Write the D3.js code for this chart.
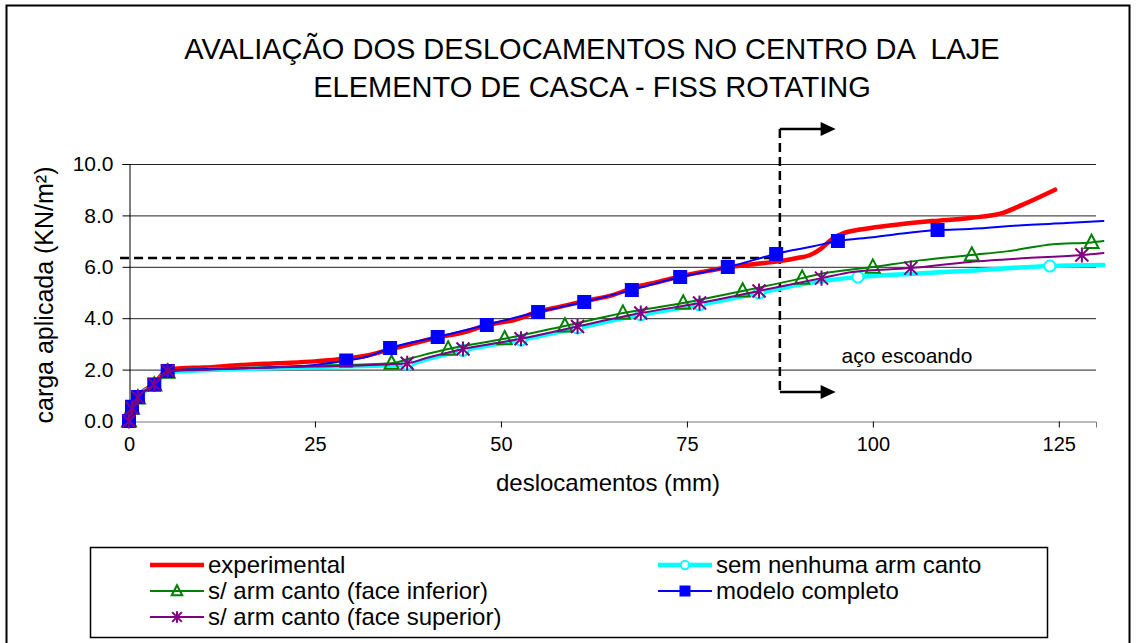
<!DOCTYPE html>
<html>
<head>
<meta charset="utf-8">
<script src="https://cdn.jsdelivr.net/npm/d3@7"></script>
<style>
  body { margin: 0; background: #fff; }
  svg { display: block; font-family: "Liberation Sans", Arial, sans-serif; }
  .title { white-space: pre; }
</style>
</head>
<body>
<script>
// chart text
const titleLines = ["AVALIAÇÃO DOS DESLOCAMENTOS NO CENTRO DA  LAJE", "ELEMENTO DE CASCA - FISS ROTATING"];
const xTitle = "deslocamentos (mm)";
const yTitle = "carga aplicada (KN/m²)";
const xTicks = [0, 25, 50, 75, 100, 125];
const yTicks = [0, 2, 4, 6, 8, 10];

// experimental
const expX = [0, 0.5, 1.3, 3.4, 5.2, 7, 10, 15, 20, 25, 29, 32, 35, 38, 41.5, 45, 48, 52, 55, 58, 61, 65, 68, 71, 74.5, 78, 81, 84, 87.5, 90, 91.5, 93, 94.6, 96, 98.3, 102, 108, 113, 117.5, 120, 124.5];
const expY = [0, 0.5, 0.95, 1.45, 2.0, 2.05, 2.08, 2.18, 2.25, 2.32, 2.42, 2.55, 2.78, 3.0, 3.25, 3.45, 3.72, 3.95, 4.25, 4.45, 4.65, 4.9, 5.2, 5.4, 5.65, 5.85, 6.0, 6.1, 6.22, 6.35, 6.45, 6.7, 7.1, 7.3, 7.45, 7.6, 7.78, 7.9, 8.1, 8.4, 9.0];

// sem nenhuma arm canto
const semX = [0, 0.4, 1.2, 3.4, 5.2, 8, 15, 25, 37.4, 40, 44.9, 52.7, 60.3, 68.8, 76.7, 84.7, 90, 98, 105, 113, 123.8, 131];
const semY = [0, 0.5, 0.9, 1.4, 1.9, 1.95, 2.02, 2.1, 2.2, 2.4, 2.75, 3.15, 3.62, 4.13, 4.52, 4.98, 5.3, 5.6, 5.72, 5.85, 6.03, 6.07];
const semMarks = [8, 10, 11, 12, 13, 14, 15, 17, 20];

// s/ arm canto (face inferior)
const infX = [0, 0.4, 1.2, 3.4, 5.2, 8, 15, 25, 35.3, 38, 42.9, 50.5, 58.6, 66.4, 74.5, 82.5, 90.5, 92.9, 100, 106.3, 113.3, 118, 124.2, 129.4, 131];
const infY = [0, 0.5, 0.9, 1.4, 1.9, 2.0, 2.05, 2.15, 2.25, 2.45, 2.8, 3.2, 3.7, 4.2, 4.59, 5.06, 5.56, 5.72, 5.99, 6.25, 6.46, 6.6, 6.88, 6.95, 7.0];
const infMarks = [0, 1, 2, 3, 4, 8, 10, 11, 12, 13, 14, 15, 16, 18, 20, 23];

// modelo completo
const compX = [0, 0.4, 1.2, 3.4, 5.2, 8, 15, 20, 25, 29.2, 32, 35.1, 41.5, 48.1, 55, 61.2, 67.6, 74.1, 80.5, 87, 89.3, 92, 95.3, 100, 104, 108.7, 113, 120.7, 126, 131];
const compY = [0, 0.55, 0.93, 1.42, 1.95, 2.0, 2.05, 2.1, 2.18, 2.35, 2.5, 2.84, 3.27, 3.74, 4.24, 4.63, 5.1, 5.6, 5.99, 6.5, 6.65, 6.8, 7.0, 7.15, 7.3, 7.43, 7.47, 7.63, 7.7, 7.78];
const compMarks = [0, 1, 2, 3, 4, 9, 11, 12, 13, 14, 15, 16, 17, 18, 19, 22, 25];

// s/ arm canto (face superior)
const supX = [0, 0.4, 1.2, 3.4, 5.2, 8, 15, 25, 37.4, 40, 44.9, 52.7, 60.3, 68.8, 76.7, 84.7, 93.1, 97.3, 105.1, 113, 120.7, 128.1, 131];
const supY = [0, 0.5, 0.92, 1.42, 1.95, 1.97, 2.05, 2.12, 2.25, 2.45, 2.8, 3.2, 3.68, 4.2, 4.59, 5.06, 5.56, 5.8, 5.95, 6.19, 6.34, 6.46, 6.54];
const supMarks = [0, 1, 2, 3, 4, 8, 10, 11, 12, 13, 14, 15, 16, 18, 21];

// annotation: yielding of steel
const yieldX = 87.5;
const yieldLoad = 6.34;
const yieldLabel = "aço escoando";

const W = 1136, H = 643;
const svg = d3.select("body").append("svg").attr("width", W).attr("height", H);

// outer chart border
svg.append("rect").attr("x", 6.5).attr("y", 5.5).attr("width", 1123).attr("height", 660)
  .attr("fill", "none").attr("stroke", "#000").attr("stroke-width", 2);

const x = d3.scaleLinear().domain([0, 130]).range([129, 1096]);
const y = d3.scaleLinear().domain([0, 10]).range([421, 164]);

// title
svg.selectAll(".title").data(titleLines).join("text")
  .attr("class", "title")
  .attr("x", 592).attr("y", (d, i) => 59 + i * 38)
  .attr("text-anchor", "middle").attr("font-size", 29).attr("fill", "#000")
  .text(d => d);

// grid
svg.append("g").selectAll("line").data(yTicks.filter(d => d > 0)).join("line")
  .attr("x1", x(0)).attr("x2", x(130)).attr("y1", d => y(d) + 0.5).attr("y2", d => y(d) + 0.5)
  .attr("stroke", "#222").attr("stroke-width", 1);

// x axis
const xAxis = svg.append("g").attr("transform", `translate(0,${y(0) + 0.5})`)
  .call(d3.axisBottom(x).tickValues(xTicks).tickSize(6).tickPadding(9).tickFormat(d3.format("d")));
xAxis.select(".domain").attr("stroke", "#777");
xAxis.selectAll(".tick line").attr("stroke", "#000");
xAxis.selectAll("text").attr("font-size", 20).attr("font-family", null).attr("fill", "#000");

// y axis
const yAxis = svg.append("g").attr("transform", `translate(${x(0) + 0.5},0)`)
  .call(d3.axisLeft(y).tickValues(yTicks).tickSize(7).tickPadding(9).tickFormat(d3.format(".1f")));
yAxis.select(".domain").attr("stroke", "#000");
yAxis.selectAll(".tick line").attr("stroke", "#000");
yAxis.selectAll("text").attr("font-size", 21).attr("font-family", null).attr("fill", "#000");

// axis titles
svg.append("text").attr("x", 608).attr("y", 491).attr("text-anchor", "middle")
  .attr("font-size", 24).text(xTitle);
svg.append("text").attr("transform", "translate(53,295) rotate(-90)").attr("text-anchor", "middle")
  .attr("font-size", 25).text(yTitle);

// yield annotation
const dash = "9,5";
svg.append("line").attr("x1", x(-1.2)).attr("x2", x(yieldX)).attr("y1", y(yieldLoad)).attr("y2", y(yieldLoad))
  .attr("stroke", "#000").attr("stroke-width", 2.5).attr("stroke-dasharray", dash);
svg.append("line").attr("x1", x(yieldX)).attr("x2", x(yieldX)).attr("y1", y(11.36)).attr("y2", y(1.2))
  .attr("stroke", "#000").attr("stroke-width", 2.5).attr("stroke-dasharray", dash);
[11.36, 1.13].forEach(v => {
  const yy = y(v), x0 = x(yieldX), x1 = x(95);
  svg.append("line").attr("x1", x0).attr("x2", x1 - 12).attr("y1", yy).attr("y2", yy)
    .attr("stroke", "#000").attr("stroke-width", 2.5);
  svg.append("path").attr("d", `M${x1},${yy}L${x1 - 15},${yy - 7}L${x1 - 15},${yy + 7}Z`).attr("fill", "#000");
});
svg.append("text").attr("x", x(95.8)).attr("y", y(2.26)).attr("font-size", 21).text(yieldLabel);

// markers
const markerPath = {
  circle: s => d3.symbol(d3.symbolCircle, s * s * 0.8)(),
  square: s => `M${-s / 2},${-s / 2}h${s}v${s}h${-s}Z`,
  triangle: s => `M0,${-s * 0.55}L${s * 0.5},${s * 0.4}L${-s * 0.5},${s * 0.4}Z`,
  star: s => `M${-s / 2},${-s / 2}L${s / 2},${s / 2}M${-s / 2},${s / 2}L${s / 2},${-s / 2}M0,${-s * 0.58}L0,${s * 0.58}`
};

const series = [
  { name: "experimental", xs: expX, ys: expY, marks: [], color: "#ff0000", width: 4.5, shape: null },
  { name: "sem nenhuma arm canto", xs: semX, ys: semY, marks: semMarks, color: "#00ffff", width: 4.5, shape: "circle", size: 11, fill: "#fff" },
  { name: "s/ arm canto (face inferior)", xs: infX, ys: infY, marks: infMarks, color: "#008000", width: 2, shape: "triangle", size: 14, fill: "none" },
  { name: "modelo completo", xs: compX, ys: compY, marks: compMarks, color: "#0000ff", width: 2, shape: "square", size: 12, fill: "#0000ff" },
  { name: "s/ arm canto (face superior)", xs: supX, ys: supY, marks: supMarks, color: "#800080", width: 2, shape: "star", size: 13, fill: "none" }
];

const line = d3.line().x(d => x(d[0])).y(d => y(d[1])).curve(d3.curveMonotoneX);

series.forEach(s => {
  const pts = s.xs.map((v, i) => [v, s.ys[i]]);
  const g = svg.append("g");
  g.append("path").attr("d", line(pts)).attr("fill", "none")
    .attr("stroke", s.color).attr("stroke-width", s.width).attr("stroke-linejoin", "round").attr("stroke-linecap", "round");
  g.selectAll(".m").data(s.marks.map(i => pts[i])).join("path")
    .attr("transform", d => `translate(${x(d[0])},${y(d[1])})`)
    .attr("d", markerPath[s.shape] ? markerPath[s.shape](s.size) : null)
    .attr("fill", s.fill).attr("stroke", s.color).attr("stroke-width", 2);
});

// legend
svg.append("rect").attr("x", 90.5).attr("y", 547.5).attr("width", 957).attr("height", 90)
  .attr("fill", "none").attr("stroke", "#000").attr("stroke-width", 1.5);

const legendOrder = [0, 1, 2, 3, 4];
const lg = svg.append("g").selectAll("g").data(legendOrder.map(i => series[i])).join("g")
  .attr("transform", (d, i) => `translate(${i % 2 ? 658 : 150},${565 + Math.floor(i / 2) * 26})`);
lg.append("line").attr("x1", 0).attr("x2", 54).attr("y1", 0).attr("y2", 0)
  .attr("stroke", d => d.color).attr("stroke-width", d => d.width);
lg.filter(d => d.shape).append("path")
  .attr("transform", "translate(27,0)")
  .attr("d", d => markerPath[d.shape](d.size * 0.75))
  .attr("fill", d => d.fill).attr("stroke", d => d.color).attr("stroke-width", 2);
lg.append("text").attr("x", 58).attr("y", 8).attr("font-size", 24).attr("fill", "#000").text(d => d.name);
</script>
</body>
</html>
